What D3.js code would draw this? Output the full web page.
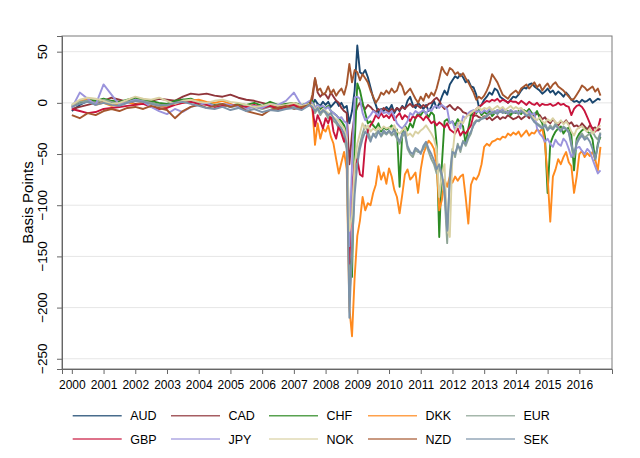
<!DOCTYPE html>
<html>
<head>
<meta charset="utf-8">
<script src="https://cdn.jsdelivr.net/npm/d3@7"></script>
<style>
  body { margin: 0; background: #fff; }
  text { font-family: "Liberation Sans", Arial, Helvetica, sans-serif; fill: #000; }
</style>
</head>
<body>
<svg width="640" height="458"></svg>
<script>
// quarterly points to mid 2007, monthly afterwards
var earlyDates = d3.range(30).map(function(i) { return 2000 + i * 0.25; });
var lateDates = d3.range(111).map(function(i) { return 2007.5 + i / 12; });
var dates = earlyDates.concat(lateDates);

var currencies = ["AUD", "CAD", "CHF", "DKK", "EUR", "GBP", "JPY", "NOK", "NZD", "SEK"];
var colors = ["#1a476f", "#90353b", "#2e8b24", "#ff8a1e", "#8fa596", "#c8143c", "#9b94dc", "#d9d1a3", "#a5562e", "#7b92a8"];
var years = d3.range(2000, 2017);
var yTicks = [-250, -200, -150, -100, -50, 0, 50];

var audVals = [-8,-2,2,0,3,1,-1,2,4,2, 0,-2,-3,1,3,2,0,-1,-3,-2, -4,-2,-5,-3,-4,-2,-6,-3,-1,-4,
  0,-2,3,-1,-3,1,
  -2,1,-4,-1,2,-3,0,-5,-3,-20,-8,12,
  56,30,28,32,25,15,5,-2,-10,-6,-8,-4,
  -7,-2,-10,-5,-8,-3,-6,2,6,-2,-5,0,
  -3,-6,-2,-8,-4,2,-5,-1,6,12,8,18,
  22,26,24,28,25,20,22,16,15,8,-4,-2,
  3,6,10,8,14,12,6,4,2,0,3,6,
  5,8,12,15,14,18,19,16,14,12,9,11,
  14,10,12,8,11,9,6,10,7,3,1,2,
  0,3,1,2,4,0,2,4,3];

var cadVals = [-6,-4,-2,0,2,5,3,1,-1,0, 2,4,3,2,6,9,8,9,7,6, 8,5,3,2,0,-2,-4,-3,-2,-4,
  0,3,24,10,6,9,
  8,4,10,6,2,0,-5,-8,-10,-60,-30,-12,
  -4,0,-3,-6,-2,-4,-7,-9,-6,-8,-5,-7,
  -9,-6,-8,-5,-7,-4,-6,-3,-1,-4,-2,-3,
  -5,-2,-4,-1,0,3,5,2,-3,-6,-4,-2,
  -5,-7,-4,-6,-9,-10,-12,-11,-13,-12,-14,-15,
  -13,-16,-14,-17,-15,-13,-16,-14,-15,-12,-14,-16,
  -15,-13,-16,-14,-12,-15,-11,-13,-10,-12,-16,-14,
  -18,-20,-16,-19,-22,-18,-20,-17,-21,-19,-23,-22,
  -24,-20,-23,-26,-22,-25,-24,-27,-25];

var chfVals = [-3,0,3,2,4,2,1,3,5,3, 2,0,-1,2,3,4,1,0,-2,-1, -3,-1,-2,0,-3,1,-2,-1,0,-2,
  0,2,-5,-2,-6,-4,
  -5,-3,-8,-10,-12,-15,-18,-22,-30,-150,-170,-40,
  19,12,0,-10,-20,-18,-22,-25,-20,-28,-24,-26,
  -25,-22,-28,-26,-82,-30,-22,-27,-20,-24,-15,-10,
  -12,-8,-10,-14,-9,-12,-40,-131,-60,-18,-16,-20,
  -18,-22,-16,-20,-23,-40,-25,-12,-8,-10,-7,-12,
  -9,-11,-8,-13,-10,-7,-9,-6,-10,-8,-12,-9,
  -10,-8,-11,-7,-9,-6,-10,-12,-8,-15,-20,-33,
  -88,-40,-33,-28,-25,-23,-30,-26,-24,-32,-66,-35,
  -30,-27,-25,-28,-30,-36,-56,-40,-33];

var dkkVals = [-4,2,4,-2,0,-3,-1,1,-2,0, -1,-3,-4,-1,0,2,3,1,0,2, -1,-4,-6,-3,-5,-3,-6,-4,-2,-5,
  -1,-5,-41,-20,-35,-25,
  -28,-22,-33,-40,-55,-69,-58,-48,-65,-200,-228,-170,
  -130,-115,-92,-105,-98,-100,-88,-80,-62,-75,-68,-79,
  -64,-72,-85,-92,-108,-90,-70,-65,-75,-72,-68,-88,
  -65,-50,-43,-37,-40,-45,-60,-105,-95,-75,-82,-72,
  -78,-72,-76,-72,-70,-92,-118,-80,-73,-75,-70,-60,
  -43,-40,-42,-38,-37,-35,-36,-33,-34,-30,-32,-29,
  -31,-28,-33,-30,-27,-32,-29,-30,-26,-28,-25,-40,
  -72,-116,-72,-65,-55,-60,-53,-48,-58,-62,-88,-72,
  -50,-47,-53,-49,-52,-48,-55,-66,-43];

var eurVals = [-2,1,2,0,3,1,-1,1,3,2, 0,-2,-3,0,2,1,0,-2,-3,-2, -4,-3,-5,-4,-6,-4,-7,-5,-3,-6,
  -1,-3,-10,-6,-12,-8,
  -10,-15,-12,-18,-20,-25,-28,-35,-45,-190,-150,-70,
  -53,-40,-30,-22,-28,-35,-32,-30,-27,-33,-29,-31,
  -28,-32,-30,-35,-40,-33,-30,-45,-50,-53,-46,-48,
  -48,-45,-40,-48,-55,-60,-69,-64,-72,-90,-137,-70,
  -45,-53,-40,-48,-37,-42,-35,-30,-20,-17,-18,-15,
  -14,-12,-10,-9,-8,-10,-7,-9,-8,-10,-7,-9,
  -8,-10,-7,-9,-12,-10,-14,-18,-20,-22,-24,-20,
  -26,-22,-25,-20,-24,-27,-23,-25,-28,-40,-53,-38,
  -33,-30,-34,-32,-30,-28,-33,-36,-29];

var gbpVals = [-6,-8,-10,-9,-6,-5,-4,-3,-2,-1, -4,-6,-5,-2,0,1,-1,-2,-4,-3, -2,-3,-4,-2,-5,-3,-6,-4,-2,-6,
  -2,-5,-23,-12,-18,-25,
  -15,-20,-12,-28,-35,-22,-30,-38,-28,-157,-80,-60,
  -55,-70,-72,-40,-27,-22,-18,-12,-15,-10,-14,-12,
  -15,-11,-17,-13,-10,-16,-12,-14,-18,-13,-15,-12,
  -14,-17,-13,-16,-20,-18,-22,-19,-21,-24,-20,-26,
  -28,-30,-25,-32,-28,-30,-26,-22,-12,-6,-4,-2,
  0,2,1,3,2,4,1,3,2,0,2,1,
  1,-1,2,0,-2,1,-1,-2,0,-3,-1,-2,
  -2,-1,-3,-2,0,-2,-1,-3,-4,-12,-6,-3,
  -2,-4,-8,-14,-20,-26,-28,-25,-15];

var jpyVals = [-5,10,4,-2,18,8,-2,0,3,1, -4,-8,-11,-6,-9,-4,-2,0,-3,-1, -2,-4,-6,-3,-5,-1,-2,2,10,-3,
  2,0,-5,-2,-4,-3,
  -6,-4,-8,-10,-12,-15,-14,-18,-20,-140,-60,5,
  6,4,-10,-17,-15,-12,-8,-10,-13,-7,-10,-9,
  -11,-8,-13,-20,-23,-25,-22,-18,-10,-12,-8,-10,
  -9,-7,-11,-6,-8,-4,-3,-5,-2,-4,-6,-20,
  -18,-27,-20,-25,-13,-15,-10,-8,-7,-9,-8,-10,
  -7,-9,-6,-8,-10,-7,-9,-6,-8,-10,-7,-9,
  -8,-10,-7,-9,-11,-8,-12,-10,-25,-30,-33,-38,
  -35,-40,-43,-36,-40,-42,-35,-38,-45,-53,-48,-44,
  -43,-47,-50,-45,-48,-55,-62,-69,-66];

var nokVals = [-2,3,5,4,2,-1,0,3,6,4, 3,5,2,-1,2,3,1,0,2,3, 1,0,-2,-4,-3,-1,-3,-2,0,-3,
  -1,-2,-7,-4,-9,-6,
  -8,-10,-12,-14,-16,-18,-22,-25,-35,-125,-110,-60,
  -40,-30,-20,-25,-22,-28,-25,-27,-24,-26,-23,-25,
  -24,-26,-22,-28,-30,-27,-24,-32,-30,-33,-28,-30,
  -27,-25,-22,-26,-30,-35,-45,-92,-70,-60,-124,-131,
  -50,-27,-22,-18,-20,-14,-12,-10,-8,-6,-4,-7,
  -5,-6,-4,-7,-5,-3,-6,-4,-7,-5,-3,-6,
  -4,-6,-5,-8,-10,-12,-13,-15,-17,-14,-18,-20,
  -16,-18,-15,-19,-20,-17,-21,-18,-22,-28,-32,-26,
  -24,-23,-26,-28,-25,-30,-27,-24,-22];

var nzdVals = [-12,-15,-10,-12,-8,-6,-8,-5,-4,-6, -3,-5,-7,-15,-8,-4,-2,-5,-3,-1, -4,-2,-8,-10,-12,-7,-5,-3,-6,-4,
  -2,8,24,12,14,8,
  10,16,9,13,7,11,14,8,18,38,20,32,
  30,22,28,24,20,12,6,0,4,10,8,12,
  9,14,10,12,20,16,8,11,14,9,4,0,
  6,2,9,5,10,7,14,24,35,30,27,34,
  32,28,30,26,29,24,20,15,10,3,6,4,
  7,12,18,28,24,20,14,8,6,4,8,10,
  12,9,14,16,18,14,17,20,15,18,12,16,
  19,14,18,20,16,14,12,9,6,3,4,8,
  12,17,15,12,14,16,11,14,7];

var sekVals = [-4,-1,1,-2,0,-2,-3,0,2,1, -1,-3,-2,0,1,-1,-3,-5,-6,-4, -7,-5,-8,-6,-9,-7,-8,-6,-5,-7,
  -2,-4,-8,-5,-10,-7,
  -9,-12,-10,-15,-18,-22,-25,-30,-40,-210,-140,-90,
  -60,-45,-35,-28,-32,-38,-30,-34,-28,-32,-27,-30,
  -27,-30,-26,-33,-38,-30,-28,-42,-48,-50,-44,-46,
  -50,-42,-38,-45,-50,-56,-65,-60,-70,-85,-125,-75,
  -48,-50,-42,-45,-38,-40,-33,-28,-22,-18,-17,-16,
  -15,-13,-11,-10,-9,-11,-8,-10,-9,-11,-8,-10,
  -9,-11,-8,-10,-13,-11,-15,-19,-21,-23,-25,-22,
  -27,-24,-26,-22,-25,-28,-24,-26,-29,-42,-50,-40,
  -35,-32,-36,-34,-38,-45,-55,-42,-30];

var seriesVals = [audVals, cadVals, chfVals, dkkVals, eurVals, gbpVals, jpyVals, nokVals, nzdVals, sekVals];

var plotLeft = 62, plotRight = 612, plotTop = 36, plotBottom = 369;

var svg = d3.select("svg");

var x = d3.scaleLinear()
	.domain([1999.69, 2017.03])
	.range([plotLeft, plotRight]);

var y = d3.scaleLinear()
	.domain([-260, 65.3])
	.range([plotBottom, plotTop]);

// grid
svg.append("g")
	.selectAll("line")
	.data(yTicks)
	.enter()
	.append("line")
	.attr("x1", plotLeft)
	.attr("x2", plotRight)
	.attr("y1", function(d) { return y(d); })
	.attr("y2", function(d) { return y(d); })
	.attr("stroke", "#e6e6e6")
	.attr("stroke-width", 1);

svg.append("clipPath")
	.attr("id", "plotclip")
	.append("rect")
	.attr("x", plotLeft)
	.attr("y", plotTop)
	.attr("width", plotRight - plotLeft)
	.attr("height", plotBottom - plotTop);

var line = d3.line()
	.x(function(d) { return x(d[0]); })
	.y(function(d) { return y(d[1]); });

svg.append("g")
	.attr("clip-path", "url(#plotclip)")
	.selectAll("path")
	.data(seriesVals)
	.enter()
	.append("path")
	.attr("d", function(vals) {
		var pts = vals.map(function(v, i) { return [dates[i], v]; })
			.filter(function(p) { return p[0] !== undefined; });
		return line(pts);
	})
	.attr("fill", "none")
	.attr("stroke", function(d, i) { return colors[i]; })
	.attr("stroke-width", 1.9)
	.attr("stroke-linejoin", "round");

// frame
svg.append("rect")
	.attr("x", plotLeft)
	.attr("y", plotTop)
	.attr("width", plotRight - plotLeft)
	.attr("height", plotBottom - plotTop)
	.attr("fill", "none")
	.attr("stroke", "#7a7a7a")
	.attr("stroke-width", 1);

// x axis
var xAxis = d3.axisBottom(x)
	.tickValues(years)
	.tickFormat(d3.format("d"))
	.tickSize(5)
	.tickPadding(6);

var gx = svg.append("g")
	.attr("transform", "translate(0," + plotBottom + ")")
	.call(xAxis);
gx.select(".domain").attr("stroke", "#666");
gx.selectAll(".tick line").attr("stroke", "#666");
gx.selectAll("text")
	.style("font-family", "'Liberation Sans', Arial, sans-serif")
	.style("font-size", "12px")
	.attr("fill", "#000");

// y axis
var yAxis = d3.axisLeft(y)
	.tickValues(yTicks)
	.tickSize(5)
	.tickFormat("");

var gy = svg.append("g")
	.attr("transform", "translate(" + plotLeft + ",0)")
	.call(yAxis);
gy.select(".domain").attr("stroke", "#666");
gy.selectAll(".tick line").attr("stroke", "#666");

var fmt = d3.format("d");
svg.append("g")
	.selectAll("text")
	.data(yTicks)
	.enter()
	.append("text")
	.attr("x", 47.5)
	.attr("y", function(d) { return y(d); })
	.attr("transform", function(d) { return "rotate(-90," + 47.5 + "," + y(d) + ")"; })
	.attr("text-anchor", "middle")
	.style("font-size", "13.5px")
	.text(function(d) { return fmt(d); });

var midY = (plotTop + plotBottom) / 2;
svg.append("text")
	.attr("x", 33)
	.attr("y", midY)
	.attr("transform", "rotate(-90,33," + midY + ")")
	.attr("text-anchor", "middle")
	.style("font-size", "15px")
	.text("Basis Points");

// legend
var colX = [72.7, 171, 269, 368, 466];
var rowY = [415.7, 439];

var legend = svg.append("g")
	.selectAll("g")
	.data(currencies)
	.enter()
	.append("g")
	.attr("transform", function(d, i) {
		return "translate(" + colX[i % 5] + "," + rowY[Math.floor(i / 5)] + ")";
	});

legend.append("line")
	.attr("x1", 0)
	.attr("x2", 49)
	.attr("stroke", function(d, i) { return colors[i]; })
	.attr("stroke-width", 1.4)
	.attr("stroke-opacity", 0.8);

legend.append("text")
	.attr("x", 57.5)
	.attr("dy", "0.36em")
	.style("font-size", "12.5px")
	.text(function(d) { return d; });
</script>
</body>
</html>
